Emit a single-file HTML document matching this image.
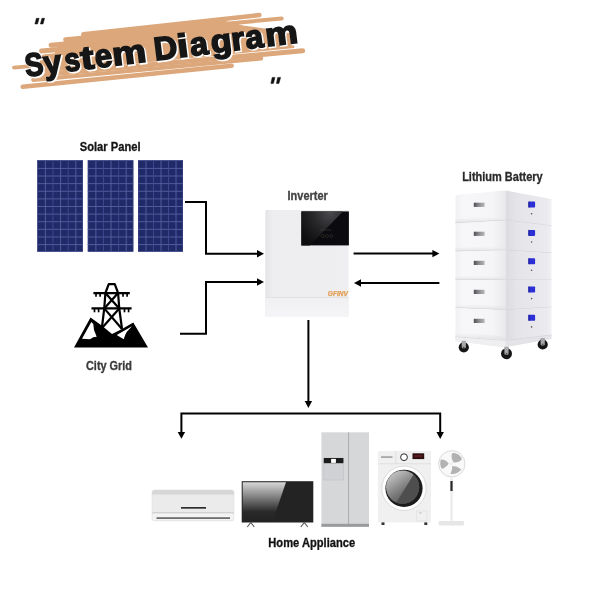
<!DOCTYPE html>
<html><head><meta charset="utf-8">
<style>
html,body{margin:0;padding:0;background:#fff;}
body{width:600px;height:600px;overflow:hidden;}
svg{display:block;will-change:transform;}
.lbl{font-family:"Liberation Sans",sans-serif;font-weight:bold;font-size:11px;text-anchor:middle;}
</style></head>
<body>
<svg width="600" height="600" viewBox="0 0 600 600">
<defs>
  <pattern id="cells" x="0" y="0" width="7.6" height="7.6" patternUnits="userSpaceOnUse">
    <rect width="7.6" height="7.6" fill="#1f2a6e"/>
    <rect x="0" y="0" width="7.6" height="0.8" fill="#7480c4"/>
    <rect x="0" y="0" width="0.8" height="7.6" fill="#7480c4"/>
  </pattern>
  <linearGradient id="scr" x1="0" y1="0" x2="1" y2="1">
    <stop offset="0" stop-color="#0b0b0e"/>
    <stop offset="0.45" stop-color="#2a2a2e"/>
    <stop offset="0.5" stop-color="#0d0d10"/>
    <stop offset="1" stop-color="#050507"/>
  </linearGradient>
  <linearGradient id="tvg" x1="0" y1="0" x2="0" y2="1">
    <stop offset="0" stop-color="#d8d8d8"/>
    <stop offset="0.75" stop-color="#2a2a2a"/>
    <stop offset="1" stop-color="#222"/>
  </linearGradient>
  <linearGradient id="invg" x1="0" y1="0" x2="1" y2="0">
    <stop offset="0" stop-color="#e4e4e6"/>
    <stop offset="0.08" stop-color="#ededef"/>
    <stop offset="1" stop-color="#efeff1"/>
  </linearGradient>
  <linearGradient id="door" x1="0.15" y1="0.1" x2="0.7" y2="0.9">
    <stop offset="0" stop-color="#c4c4c4"/>
    <stop offset="0.6" stop-color="#7a7a7a"/>
    <stop offset="1" stop-color="#555"/>
  </linearGradient>
  <linearGradient id="bfront" x1="0" y1="0" x2="1" y2="0">
    <stop offset="0" stop-color="#f1f1f3"/>
    <stop offset="0.15" stop-color="#f7f7f9"/>
    <stop offset="0.75" stop-color="#f5f5f7"/>
    <stop offset="1" stop-color="#e9e9ec"/>
  </linearGradient>
  <linearGradient id="bside" x1="0" y1="0" x2="1" y2="0">
    <stop offset="0" stop-color="#dcdce0"/>
    <stop offset="0.25" stop-color="#e5e5e9"/>
    <stop offset="0.9" stop-color="#ebebef"/>
    <stop offset="1" stop-color="#f2f2f5"/>
  </linearGradient>
  <linearGradient id="bshade" x1="0" y1="0" x2="0" y2="1">
    <stop offset="0" stop-color="#e8e8ea" stop-opacity="0"/>
    <stop offset="1" stop-color="#e2e2e5" stop-opacity="1"/>
  </linearGradient>
  <linearGradient id="handle" x1="0" y1="0" x2="1" y2="0">
    <stop offset="0" stop-color="#4e4e52"/>
    <stop offset="0.45" stop-color="#8a8a8e"/>
    <stop offset="1" stop-color="#b8b8bc"/>
  </linearGradient>
  <radialGradient id="refl" gradientUnits="userSpaceOnUse" cx="330" cy="212" r="36">
    <stop offset="0" stop-color="#4a4a4e"/>
    <stop offset="0.5" stop-color="#262629"/>
    <stop offset="1" stop-color="#0e0e11"/>
  </radialGradient>
  <linearGradient id="invb" x1="0" y1="0" x2="0" y2="1">
    <stop offset="0" stop-color="#f0f0f2"/>
    <stop offset="1" stop-color="#f5f5f7"/>
  </linearGradient>
</defs>

<!-- ===== Title ===== -->
<g transform="rotate(-5.1 160 50)" fill="#dca77a" stroke="#dca77a" stroke-linecap="round">
  <polygon points="60,37.5 84,28.5 225,26 245,33 275,40 294,46 294,60 40,62" stroke="none"/>
  <line x1="42" y1="40.5" x2="200" y2="40.5" stroke-width="5"/>
  <line x1="52" y1="35.5" x2="230" y2="35" stroke-width="5"/>
  <line x1="67" y1="31.5" x2="225" y2="30.5" stroke-width="5"/>
  <line x1="85" y1="27.5" x2="262" y2="24" stroke-width="4.5"/>
  <line x1="120" y1="30" x2="284" y2="29.5" stroke-width="4"/>
  <line x1="13" y1="54.5" x2="80" y2="54.5" stroke-width="3.8"/>
  <line x1="45" y1="50" x2="286" y2="50" stroke-width="12"/>
  <line x1="31" y1="64" x2="302" y2="63.5" stroke-width="5"/>
  <line x1="31" y1="68.5" x2="260" y2="67.5" stroke-width="4"/>
  <line x1="20" y1="74.5" x2="230" y2="72" stroke-width="4.5"/>
</g>
<g transform="rotate(-7.2 160 50)" font-family="Liberation Sans" font-weight="bold" font-size="32.5">
  <g fill="#fff" stroke="#fff" stroke-width="2.2" transform="translate(1 1.3)"><text lengthAdjust="spacingAndGlyphs" x="24.04" y="59.8" textLength="18.43">S</text><text lengthAdjust="spacingAndGlyphs" x="42.73" y="59.8" textLength="17.98">y</text><text lengthAdjust="spacingAndGlyphs" x="63.67" y="59.8" textLength="15.66">s</text><text lengthAdjust="spacingAndGlyphs" x="80.28" y="59.8" textLength="13.2">t</text><text lengthAdjust="spacingAndGlyphs" x="94.38" y="59.8" textLength="17.31">e</text><text lengthAdjust="spacingAndGlyphs" x="112.02" y="59.8" textLength="34.04">m</text><text lengthAdjust="spacingAndGlyphs" x="153.99" y="59.8" textLength="23.51">D</text><text lengthAdjust="spacingAndGlyphs" x="177.5" y="59.8" textLength="11.02">i</text><text lengthAdjust="spacingAndGlyphs" x="190.2" y="59.8" textLength="17.99">a</text><text lengthAdjust="spacingAndGlyphs" x="211.21" y="59.8" textLength="20.95">g</text><text lengthAdjust="spacingAndGlyphs" x="231.94" y="59.8" textLength="13.26">r</text><text lengthAdjust="spacingAndGlyphs" x="245.94" y="59.8" textLength="17.99">a</text><text lengthAdjust="spacingAndGlyphs" x="266.04" y="59.8" textLength="32.63">m</text></g>
  <g fill="#161616" stroke="#161616" stroke-width="1.6"><text lengthAdjust="spacingAndGlyphs" x="24.04" y="59.8" textLength="18.43">S</text><text lengthAdjust="spacingAndGlyphs" x="42.73" y="59.8" textLength="17.98">y</text><text lengthAdjust="spacingAndGlyphs" x="63.67" y="59.8" textLength="15.66">s</text><text lengthAdjust="spacingAndGlyphs" x="80.28" y="59.8" textLength="13.2">t</text><text lengthAdjust="spacingAndGlyphs" x="94.38" y="59.8" textLength="17.31">e</text><text lengthAdjust="spacingAndGlyphs" x="112.02" y="59.8" textLength="34.04">m</text><text lengthAdjust="spacingAndGlyphs" x="153.99" y="59.8" textLength="23.51">D</text><text lengthAdjust="spacingAndGlyphs" x="177.5" y="59.8" textLength="11.02">i</text><text lengthAdjust="spacingAndGlyphs" x="190.2" y="59.8" textLength="17.99">a</text><text lengthAdjust="spacingAndGlyphs" x="211.21" y="59.8" textLength="20.95">g</text><text lengthAdjust="spacingAndGlyphs" x="231.94" y="59.8" textLength="13.26">r</text><text lengthAdjust="spacingAndGlyphs" x="245.94" y="59.8" textLength="17.99">a</text><text lengthAdjust="spacingAndGlyphs" x="266.04" y="59.8" textLength="32.63">m</text></g>
</g>
<g fill="#111" stroke="#111" stroke-width="0.5" stroke-linejoin="round">
  <polygon points="36.4,18.3 39.1,18.3 37.5,24 34.9,24"/>
  <polygon points="41.9,18.3 44.6,18.3 43,24 40.4,24"/>
  <polygon points="272.2,77.4 275,77.4 273.4,83.4 270.9,83.4"/>
  <polygon points="277.7,77.4 280.6,77.4 278.9,83.4 276.4,83.4"/>
</g>


<!-- ===== Labels ===== -->
<g class="lbl" style="font-size:12.2px" opacity="0.999">
<text x="110.15" y="151" fill="#151515" stroke="#151515" stroke-width="0.3" textLength="60.8" lengthAdjust="spacingAndGlyphs">Solar Panel</text>
<text x="307.7" y="199.5" fill="#424242" stroke="#424242" stroke-width="0.3" textLength="40.4" lengthAdjust="spacingAndGlyphs">Inverter</text>
<text x="502.45" y="181.1" fill="#2a2a2a" stroke="#2a2a2a" stroke-width="0.3" textLength="80.6" lengthAdjust="spacingAndGlyphs">Lithium Battery</text>
<text x="109" y="369.5" fill="#3a3a3a" stroke="#3a3a3a" stroke-width="0.3" textLength="46" lengthAdjust="spacingAndGlyphs">City Grid</text>
<text x="311.7" y="546.7" fill="#121212" stroke="#121212" stroke-width="0.3" textLength="86.8" lengthAdjust="spacingAndGlyphs">Home Appliance</text>
</g>

<!-- ===== Solar panels ===== -->
<rect x="37.3" y="160.3" width="45.6" height="91.4" fill="#212a69"/>
<path d="M45.40 160.3V251.7M60.60 160.3V251.7M75.80 160.3V251.7M37.3 168.42H82.9M37.3 176.03H82.9M37.3 183.65H82.9M37.3 191.27H82.9M37.3 198.88H82.9M37.3 206.50H82.9M37.3 214.12H82.9M37.3 221.73H82.9M37.3 229.35H82.9M37.3 236.97H82.9M37.3 244.58H82.9" stroke="#5863a6" stroke-width="0.85" fill="none"/>
<path d="M53.00 160.3V251.7M68.20 160.3V251.7" stroke="#434d92" stroke-width="0.85" fill="none"/>
<rect x="37.599999999999994" y="160.60000000000002" width="45.0" height="90.8" fill="none" stroke="#3d4788" stroke-width="0.6"/>
<rect x="87.8" y="160.3" width="45.5" height="91.4" fill="#212a69"/>
<path d="M95.88 160.3V251.7M111.05 160.3V251.7M126.22 160.3V251.7M87.8 168.42H133.3M87.8 176.03H133.3M87.8 183.65H133.3M87.8 191.27H133.3M87.8 198.88H133.3M87.8 206.50H133.3M87.8 214.12H133.3M87.8 221.73H133.3M87.8 229.35H133.3M87.8 236.97H133.3M87.8 244.58H133.3" stroke="#5863a6" stroke-width="0.85" fill="none"/>
<path d="M103.47 160.3V251.7M118.63 160.3V251.7" stroke="#434d92" stroke-width="0.85" fill="none"/>
<rect x="88.1" y="160.60000000000002" width="44.9" height="90.8" fill="none" stroke="#3d4788" stroke-width="0.6"/>
<rect x="138" y="160.3" width="45.0" height="91.4" fill="#212a69"/>
<path d="M146.00 160.3V251.7M161.00 160.3V251.7M176.00 160.3V251.7M138 168.42H183M138 176.03H183M138 183.65H183M138 191.27H183M138 198.88H183M138 206.50H183M138 214.12H183M138 221.73H183M138 229.35H183M138 236.97H183M138 244.58H183" stroke="#5863a6" stroke-width="0.85" fill="none"/>
<path d="M153.50 160.3V251.7M168.50 160.3V251.7" stroke="#434d92" stroke-width="0.85" fill="none"/>
<rect x="138.3" y="160.60000000000002" width="44.4" height="90.8" fill="none" stroke="#3d4788" stroke-width="0.6"/>

<!-- ===== City grid icon ===== -->
<g fill="#000">
  <polygon points="74,347.5 90.5,317.5 101,325 112,334 122,329 133.3,322.5 148,347.5"/>
</g>
<g fill="#fff">
  <polygon points="91.3,322 82,338.7 90,339.3 93.3,337.3 96.7,336.7 94,330 93.3,324"/>
  <polygon points="132,326.3 116.7,335 123.7,339.3 125.3,334.7 126.7,332"/>
</g>
<g stroke="#000" stroke-width="2.2" fill="none" stroke-linecap="butt" stroke-linejoin="round">
  <polyline points="102,327 104.25,308.4 105.4,293 108.75,284.1 114.75,284.1 118.1,293 119.25,308.4 122,329"/>
  <line x1="93.4" y1="293.1" x2="129.8" y2="293.1"/>
  <line x1="91.5" y1="308.4" x2="131.6" y2="308.4"/>
  <line x1="105.4" y1="293" x2="119.25" y2="308.4"/>
  <line x1="118.1" y1="293" x2="104.25" y2="308.4"/>
  <line x1="104.25" y1="308.4" x2="122" y2="329"/>
  <line x1="119.25" y1="308.4" x2="102" y2="328"/>
  <g stroke-width="1.7">
    <line x1="96" y1="293" x2="96" y2="296.7"/><line x1="100.1" y1="293" x2="100.1" y2="296.7"/>
    <line x1="123" y1="293" x2="123" y2="296.7"/><line x1="127.1" y1="293" x2="127.1" y2="296.7"/>
    <line x1="94.5" y1="308.4" x2="94.5" y2="312.3"/><line x1="98.6" y1="308.4" x2="98.6" y2="312.3"/>
    <line x1="124.5" y1="308.4" x2="124.5" y2="312.3"/><line x1="128.6" y1="308.4" x2="128.6" y2="312.3"/>
  </g>
</g>

<!-- ===== Arrows / lines ===== -->
<g stroke="#000" stroke-width="2" fill="none">
  <polyline points="185,202 206,202 206,253.7 258,253.7"/>
  <polyline points="180,333.7 206,333.7 206,282 258,282"/>
  <line x1="353.6" y1="253.6" x2="433" y2="253.6"/>
  <line x1="360" y1="283" x2="439.4" y2="283"/>
  <line x1="308.4" y1="320" x2="308.4" y2="402"/>
  <polyline points="181.4,432 181.4,413.6 440.2,413.6 440.2,432"/>
</g>
<g fill="#000">
  <polygon points="264,253.7 257,250 257,257.4"/>
  <polygon points="264,282 257,278.3 257,285.7"/>
  <polygon points="439.4,253.6 432.4,249.9 432.4,257.3"/>
  <polygon points="354,283 361,279.3 361,286.7"/>
  <polygon points="308.4,408 304.7,401 312.1,401"/>
  <polygon points="181.4,438.8 177.7,432 185.1,432"/>
  <polygon points="440.2,439 436.5,432 443.9,432"/>
</g>

<!-- ===== Inverter ===== -->
<g>
  <rect x="265.3" y="210" width="83.3" height="106.7" rx="1.2" fill="url(#invg)"/>
  <rect x="265.3" y="297.5" width="83.3" height="19.2" fill="url(#invb)"/>
  <line x1="266" y1="297.5" x2="348.5" y2="297.5" stroke="#dadadc" stroke-width="0.7"/>
  <rect x="301.4" y="211.4" width="47.5" height="34" fill="#0b0b0f"/>
  <polygon points="301.4,211.4 343,211.4 309.7,245.4 301.4,245.4" fill="url(#refl)"/>
  <line x1="320" y1="230" x2="331" y2="230" stroke="#444" stroke-width="0.5"/>
  <g fill="#0a0a0a" stroke="#3c3c3c" stroke-width="0.5">
    <circle cx="322.8" cy="236" r="1.5"/><circle cx="326.9" cy="236" r="1.5"/><circle cx="331.2" cy="236" r="1.5"/>
  </g>
  <text x="327.8" y="296" font-family="Liberation Sans" font-weight="bold" font-style="italic" font-size="6.4" fill="#e39f55" stroke="#e39f55" stroke-width="0.25" textLength="20" lengthAdjust="spacingAndGlyphs">GFINV</text>
</g>

<!-- ===== Battery ===== -->
<g id="battery">
<polygon points="455.5,335.3 505.5,339.0 551.5,333.4 551.5,339 505.5,347.3 455.5,341" fill="#e4e4e8"/>
<polygon points="455.5,335.3 505.5,339.0 505.5,347.3 455.5,341" fill="#efeff1"/>
<polyline points="455.5,336.6 505.5,340.3 551.5,334.7" fill="none" stroke="#d0d0d4" stroke-width="0.7"/>
<path d="M455.5,198.0 Q455.5,195.0 459.5,194.6 L505.5,190.5 L505.5,220.4 L455.5,223.26 Z" fill="url(#bfront)"/>
<polygon points="505.5,190.5 551.5,199.0 551.5,226.07999999999998 505.5,220.4" fill="url(#bside)"/>
<polygon points="455.5,219.26 505.5,216.4 505.5,220.4 455.5,223.26" fill="url(#bshade)"/>
<polyline points="455.5,223.06 505.5,220.20000000000002 551.5,225.88" fill="none" stroke="#d2d2d6" stroke-width="0.8"/>
<rect x="473.8" y="202.7" width="10.8" height="4.2" fill="url(#handle)"/>
<rect x="528.3" y="201.6" width="6.8" height="6" rx="0.8" fill="#2c2fd6"/>
<rect x="528.3" y="201.6" width="1.4" height="6" fill="#1a1d8a" opacity="0.7"/>
<circle cx="531.5999999999999" cy="213.7" r="0.8" fill="#555"/>
<polygon points="455.5,223.26 505.5,220.4 505.5,250.3 455.5,251.52" fill="url(#bfront)"/>
<polygon points="505.5,220.4 551.5,226.07999999999998 551.5,253.16 505.5,250.3" fill="url(#bside)"/>
<polygon points="455.5,247.52 505.5,246.3 505.5,250.3 455.5,251.52" fill="url(#bshade)"/>
<polyline points="455.5,251.32000000000002 505.5,250.10000000000002 551.5,252.96" fill="none" stroke="#d2d2d6" stroke-width="0.8"/>
<rect x="473.8" y="231.7" width="10.8" height="4.2" fill="url(#handle)"/>
<rect x="528.3" y="229.9" width="6.8" height="6" rx="0.8" fill="#2c2fd6"/>
<rect x="528.3" y="229.9" width="1.4" height="6" fill="#1a1d8a" opacity="0.7"/>
<circle cx="531.5999999999999" cy="242.0" r="0.8" fill="#555"/>
<polygon points="455.5,251.52 505.5,250.3 505.5,280.2 455.5,279.78" fill="url(#bfront)"/>
<polygon points="505.5,250.3 551.5,253.16 551.5,280.24 505.5,280.2" fill="url(#bside)"/>
<polygon points="455.5,275.78 505.5,276.2 505.5,280.2 455.5,279.78" fill="url(#bshade)"/>
<polyline points="455.5,279.58 505.5,280.0 551.5,280.04" fill="none" stroke="#d2d2d6" stroke-width="0.8"/>
<rect x="473.8" y="260.8" width="10.8" height="4.2" fill="url(#handle)"/>
<rect x="528.3" y="258.2" width="6.8" height="6" rx="0.8" fill="#2c2fd6"/>
<rect x="528.3" y="258.2" width="1.4" height="6" fill="#1a1d8a" opacity="0.7"/>
<circle cx="531.5999999999999" cy="270.3" r="0.8" fill="#555"/>
<polygon points="455.5,279.78 505.5,280.2 505.5,310.1 455.5,308.04" fill="url(#bfront)"/>
<polygon points="505.5,280.2 551.5,280.24 551.5,307.32 505.5,310.1" fill="url(#bside)"/>
<polygon points="455.5,304.04 505.5,306.1 505.5,310.1 455.5,308.04" fill="url(#bshade)"/>
<polyline points="455.5,307.84000000000003 505.5,309.90000000000003 551.5,307.12" fill="none" stroke="#d2d2d6" stroke-width="0.8"/>
<rect x="473.8" y="289.8" width="10.8" height="4.2" fill="url(#handle)"/>
<rect x="528.3" y="286.5" width="6.8" height="6" rx="0.8" fill="#2c2fd6"/>
<rect x="528.3" y="286.5" width="1.4" height="6" fill="#1a1d8a" opacity="0.7"/>
<circle cx="531.5999999999999" cy="298.6" r="0.8" fill="#555"/>
<polygon points="455.5,308.04 505.5,310.1 505.5,340.0 455.5,336.3" fill="url(#bfront)"/>
<polygon points="505.5,310.1 551.5,307.32 551.5,334.4 505.5,340.0" fill="url(#bside)"/>
<polygon points="455.5,332.3 505.5,336.0 505.5,340.0 455.5,336.3" fill="url(#bshade)"/>
<rect x="473.8" y="318.8" width="10.8" height="4.2" fill="url(#handle)"/>
<rect x="528.3" y="314.8" width="6.8" height="6" rx="0.8" fill="#2c2fd6"/>
<rect x="528.3" y="314.8" width="1.4" height="6" fill="#1a1d8a" opacity="0.7"/>
<circle cx="531.5999999999999" cy="326.9" r="0.8" fill="#555"/>
<circle cx="463.8" cy="347.3" r="5.1" fill="#161616"/>
<path d="M461.6,340.7 L466.0,340.7 L465.8,347.8 Q463.8,348.90000000000003 461.8,347.8 Z" fill="#a8a8ac"/>
<circle cx="463.8" cy="347.3" r="0.9" fill="#555"/>
<circle cx="506.5" cy="353.7" r="5.5" fill="#161616"/>
<path d="M504.3,346.7 L508.7,346.7 L508.5,354.2 Q506.5,355.3 504.5,354.2 Z" fill="#a8a8ac"/>
<circle cx="506.5" cy="353.7" r="0.9" fill="#555"/>
<circle cx="542.7" cy="344.5" r="5.1" fill="#161616"/>
<path d="M540.5,337.9 L544.9000000000001,337.9 L544.7,345.0 Q542.7,346.1 540.7,345.0 Z" fill="#a8a8ac"/>
<circle cx="542.7" cy="344.5" r="0.9" fill="#555"/>
</g>

<!-- ===== Appliances ===== -->
<!-- AC -->
<g>
  <rect x="152" y="490" width="82" height="30.8" rx="2.2" fill="#ebebeb"/>
  <path d="M152,494 Q152,490 156,490 L230,490 Q234,490 234,494 L234,494.5 L152,494.5 Z" fill="#d6d6d6"/>
  <rect x="181" y="507" width="25" height="1.7" fill="#2e2e2e"/>
  <rect x="152.5" y="512.3" width="81" height="1.2" fill="#c6c6c6"/>
  <rect x="152.5" y="513.5" width="81" height="7" rx="1.5" fill="#f3f3f3"/>
  <rect x="156.5" y="517.2" width="73.5" height="1.8" fill="#6e6e6e"/>
  <rect x="152" y="490" width="82" height="30.8" rx="2.2" fill="none" stroke="#d8d8d8" stroke-width="0.5"/>
</g>
<!-- TV -->
<g>
  <rect x="241.7" y="481.2" width="71.6" height="41.3" fill="#232323"/>
  <polygon points="242.7,482.2 286,482.2 272.5,521.5 242.7,521.5" fill="url(#tvg)"/>
  <polyline points="247.3,527 250.8,522.5 254.3,527" fill="none" stroke="#5a5a5a" stroke-width="1.1"/>
  <polyline points="300.8,527 304.3,522.5 307.8,527" fill="none" stroke="#5a5a5a" stroke-width="1.1"/>
</g>
<!-- Fridge -->
<g>
  <rect x="321.4" y="432.3" width="47.6" height="94.5" fill="#d6d7d9"/>
  <rect x="321.4" y="523.8" width="47.6" height="3" fill="#9a9b9d"/>
  <line x1="348.6" y1="432.3" x2="348.6" y2="524" stroke="#98999b" stroke-width="0.7"/>
  <rect x="323.8" y="458" width="19.6" height="22" fill="#d0d1d4" stroke="#bbbcbf" stroke-width="0.5"/>
  <rect x="323.8" y="458" width="19.6" height="5.2" fill="#1c1c1c"/>
  <rect x="331.1" y="458.9" width="4.8" height="4" fill="#fff"/>
</g>
<!-- Washer -->
<g>
  <rect x="377.9" y="451" width="53.1" height="71.4" fill="#f0f0f0"/>
  <line x1="378" y1="463.8" x2="431" y2="463.8" stroke="#d8d8d8" stroke-width="0.7"/>
  <line x1="395.7" y1="451" x2="395.7" y2="463.8" stroke="#d8d8d8" stroke-width="0.7"/>
  <rect x="381" y="456.3" width="11.5" height="1.5" fill="#9a9a9a"/>
  <circle cx="404" cy="457.2" r="3.4" fill="#fff" stroke="#2a2a2a" stroke-width="1"/>
  <rect x="412.5" y="453.3" width="11.7" height="5.8" fill="#2b0f10"/>
  <rect x="414" y="455" width="8.5" height="2.2" fill="#7a1f22" opacity="0.6"/>
  <rect x="416.5" y="511" width="10.5" height="10" fill="none" stroke="#dedede" stroke-width="0.6"/>
  <rect x="419" y="512.5" width="3" height="0.8" fill="#bbb"/>
  <circle cx="404" cy="488.3" r="22.2" fill="#fff" stroke="#cfcfcf" stroke-width="0.7"/>
  <circle cx="404" cy="488.3" r="18.6" fill="#1b1b1b"/>
  <circle cx="402.6" cy="487.2" r="16.6" fill="url(#door)"/>
  <clipPath id="glass"><circle cx="402.6" cy="487.2" r="16.6"/></clipPath>
  <polygon clip-path="url(#glass)" points="414,474 396,503 420,510 425,470" fill="#4e4e4e"/>
  <rect x="381.5" y="522.4" width="3" height="2.6" fill="#333"/>
  <rect x="424.3" y="522.4" width="3" height="2.6" fill="#333"/>
</g>
<!-- Fan -->
<g>
  <circle cx="451.8" cy="463.8" r="13.2" fill="#f8f8f8" stroke="#dadada" stroke-width="1"/>
  <g fill="#b2b2b2">
    <path d="M453.8,462.6 C451.2,459 451,455 452.6,453 C456,452.6 460.5,455 461.8,458.8 C461.5,461.2 457.5,462.6 453.8,462.6 Z"/>
    <path d="M448.6,463.4 C446.5,460.6 443.5,459.2 440.8,459.6 C439.6,462.5 440.2,466.8 442,469 C444.6,467.8 447.4,465.6 448.6,463.4 Z"/>
    <path d="M452.2,466 C452.4,468.5 451.6,471.5 450.4,473.8 C454.4,474.6 459.2,472.6 461.2,469.4 C458.6,467.2 455.2,466 452.2,466 Z"/>
  </g>
  <circle cx="451.4" cy="463.7" r="1.8" fill="#efefef"/>
  <rect x="450.3" y="477.5" width="2.4" height="44" fill="#ececec"/>
  <rect x="450.4" y="481" width="2.2" height="10" fill="#262626"/>
  <rect x="438.7" y="521" width="25.3" height="4.4" rx="0.8" fill="#e6e6e6"/>
</g>
</svg>
</body></html>
